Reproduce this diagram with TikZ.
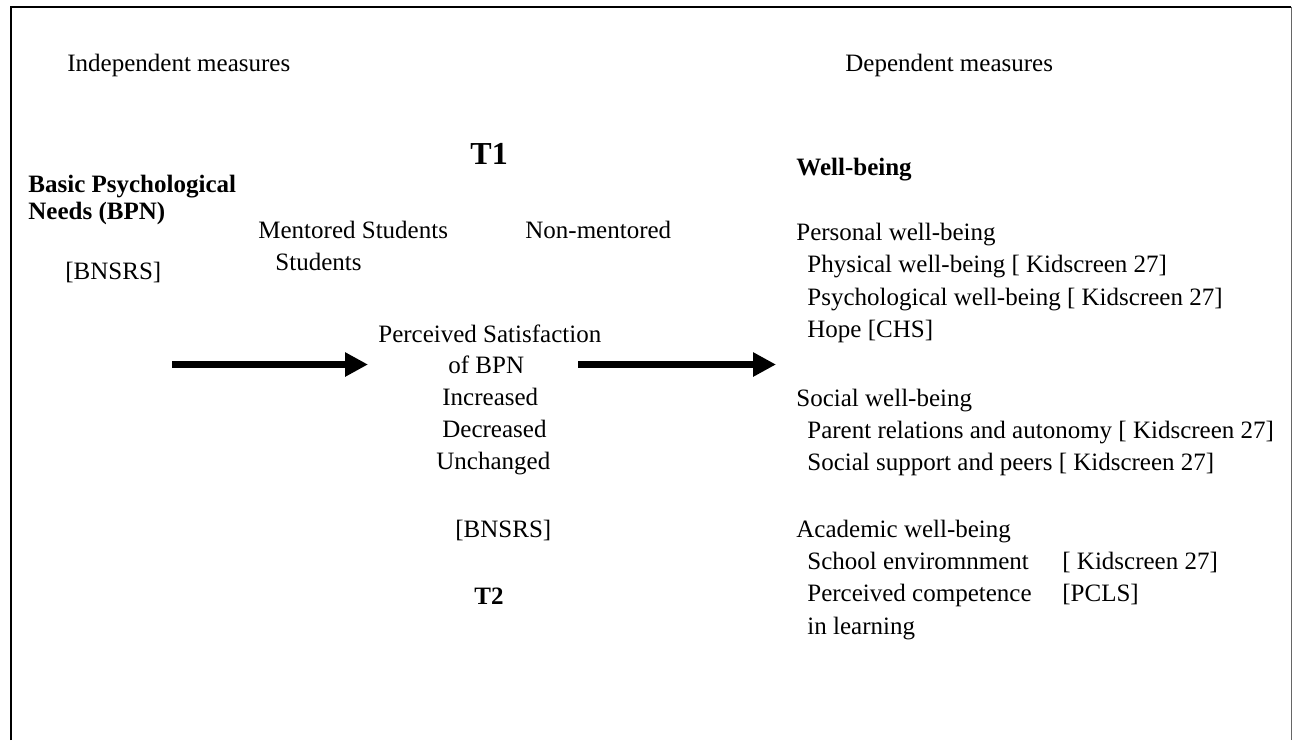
\documentclass[tikz,border=0pt]{standalone}
\usepackage{fontspec}
\setmainfont{Liberation Serif}
\usepackage{tikz}
\usetikzlibrary{arrows.meta}

\tikzset{
  txt/.style={anchor=base west, inner sep=0pt, font=\fontsize{12.5}{15}\selectfont},
  hd/.style={txt, font=\fontsize{12.5}{15}\selectfont\bfseries},
  fat/.style={line width=3.75pt, line cap=butt, -{Triangle[length=11.5pt,width=11.5pt]}}
}

\begin{document}
\begin{tikzpicture}[x=0.5pt,y=-0.5pt]
  \useasboundingbox (0,0) rectangle (1293,740);

  % open frame
  \draw[line width=1pt] (10.5,740) -- (10.5,6.5) -- (1291,6.5);
  \draw[line width=0.5pt, black!60] (1291,6.5) -- (1291,740);

  % headings
  \node[txt] (indep) at (67,71) {Independent measures};
  \node[txt] (dep) at (845,71) {Dependent measures};

  % Left column
  \node[hd] (bpn1) at (28,192) {Basic Psychological};
  \node[hd] (bpn2) at (28,219) {Needs (BPN)};
  \node[txt] (bnsrs1) at (65,279) {[BNSRS]};

  % Middle column
  \node[txt, font=\fontsize{16}{19}\selectfont\bfseries] (t1) at (470,164) {T1};
  \node[txt] (ment) at (258,238) {Mentored Students};
  \node[txt] (nonment) at (525,238) {Non-mentored};
  \node[txt] (stud) at (275,270) {Students};
  \node[txt] (sat1) at (378,342) {Perceived Satisfaction};
  \node[txt] (sat2) at (448,373.5) {of BPN};
  \node[txt] (incr) at (442,405) {Increased};
  \node[txt] (decr) at (442,437) {Decreased};
  \node[txt] (unch) at (436,469) {Unchanged};
  \node[txt] (bnsrs2) at (455,537) {[BNSRS]};
  \node[hd] (t2) at (474,604) {T2};

  % Right column
  \node[hd] (wb) at (796,175) {Well-being};
  \node[txt] (pers) at (796,240) {Personal well-being};
  \node[txt] (phys) at (807,272) {Physical well-being [ Kidscreen 27]};
  \node[txt] (psych) at (807,305) {Psychological well-being [ Kidscreen 27]};
  \node[txt] (hope) at (807,337) {Hope [CHS]};
  \node[txt] (soc) at (796,406) {Social well-being};
  \node[txt] (par) at (807,438) {Parent relations and autonomy [ Kidscreen 27]};
  \node[txt] (peer) at (807,470) {Social support and peers [ Kidscreen 27]};
  \node[txt] (acad) at (796,537) {Academic well-being};
  \node[txt] (school) at (807,569) {School enviromnment};
  \node[txt] (kid) at (1062,569) {[ Kidscreen 27]};
  \node[txt] (comp1) at (807,601) {Perceived competence};
  \node[txt] (pcls) at (1062,601) {[PCLS]};
  \node[txt] (comp2) at (807,634) {in learning};

  % arrows
  \coordinate (a1) at (172,364.5);
  \coordinate (a2) at (368,364.5);
  \coordinate (b1) at (578,364.5);
  \coordinate (b2) at (776,364.5);
  \draw[fat] (a1) -- (a2);
  \draw[fat] (b1) -- (b2);
\end{tikzpicture}
\end{document}
